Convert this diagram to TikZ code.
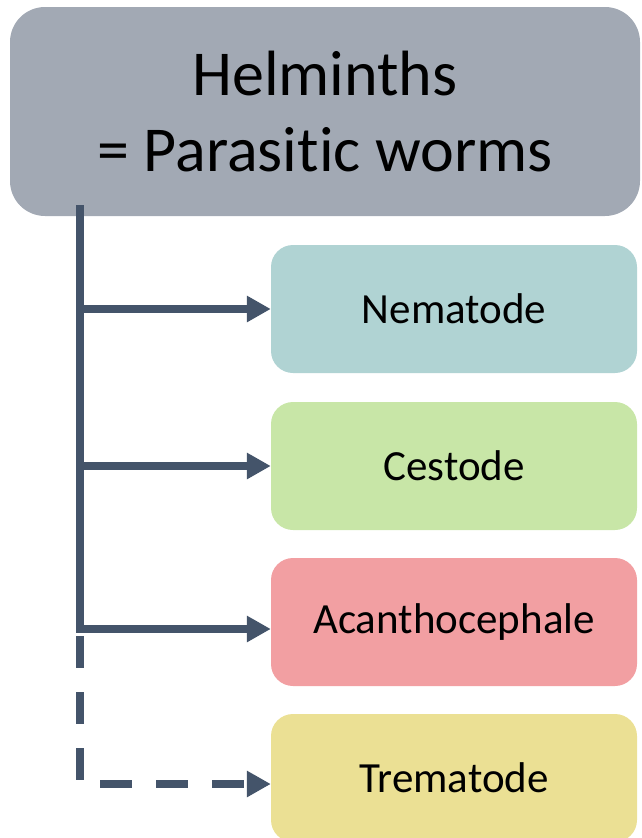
\documentclass[tikz,border=0pt]{standalone}
\usepackage{fontspec}
\setmainfont{Carlito}[Ligatures=NoCommon]
\usetikzlibrary{arrows.meta,calc}
\definecolor{topc}{HTML}{A2A9B4}
\definecolor{nemc}{HTML}{B0D3D3}
\definecolor{cesc}{HTML}{C8E6A7}
\definecolor{acac}{HTML}{F29FA2}
\definecolor{trec}{HTML}{EBE094}
\definecolor{linec}{HTML}{44546A}
\begin{document}
\begin{tikzpicture}[x=1pt,y=-1pt,
  box/.style={rounded corners=22pt, minimum width=366pt, minimum height=128pt, inner sep=0pt, text=black, font=\fontsize{43}{50}\selectfont},
  trunkline/.style={draw=linec, line width=8pt},
  conn/.style={draw=linec, line width=8pt, -{Triangle[length=24pt,width=25pt]}},
  dconn/.style={conn, dash pattern=on 32pt off 24pt}]
\useasboundingbox (0,0) rectangle (641,838);
\node[box, fill=topc, minimum width=630pt, minimum height=209pt, rounded corners=35pt,
      font=\fontsize{64}{76}\selectfont, align=center] (top) at (325,111.5) {Helminths\\= Parasitic worms};
\node[box, fill=nemc] (nem) at (454,309) {Nematode};
\node[box, fill=cesc] (ces) at (454,466) {Cestode};
\node[box, fill=acac] (aca) at (454,622) {Acanthocephale};
\node[box, fill=trec] (tre) at (454,778) {Trematode};
\coordinate (tt) at (80,205);
\coordinate (tb) at (80,633);
\coordinate (dt) at (80,636);
\coordinate (acw) at ([yshift=-7pt]aca.west);
\coordinate (trw) at ([yshift=-6pt]tre.west);
\draw[trunkline] (tt) -- (tb);
\draw[conn] (tt |- nem.west) -- (nem.west);
\draw[conn] (tt |- ces.west) -- (ces.west);
\draw[conn] (tt |- acw) -- (acw);
\draw[dconn] (dt) -- (dt |- trw) -- (trw);
\end{tikzpicture}
\end{document}
